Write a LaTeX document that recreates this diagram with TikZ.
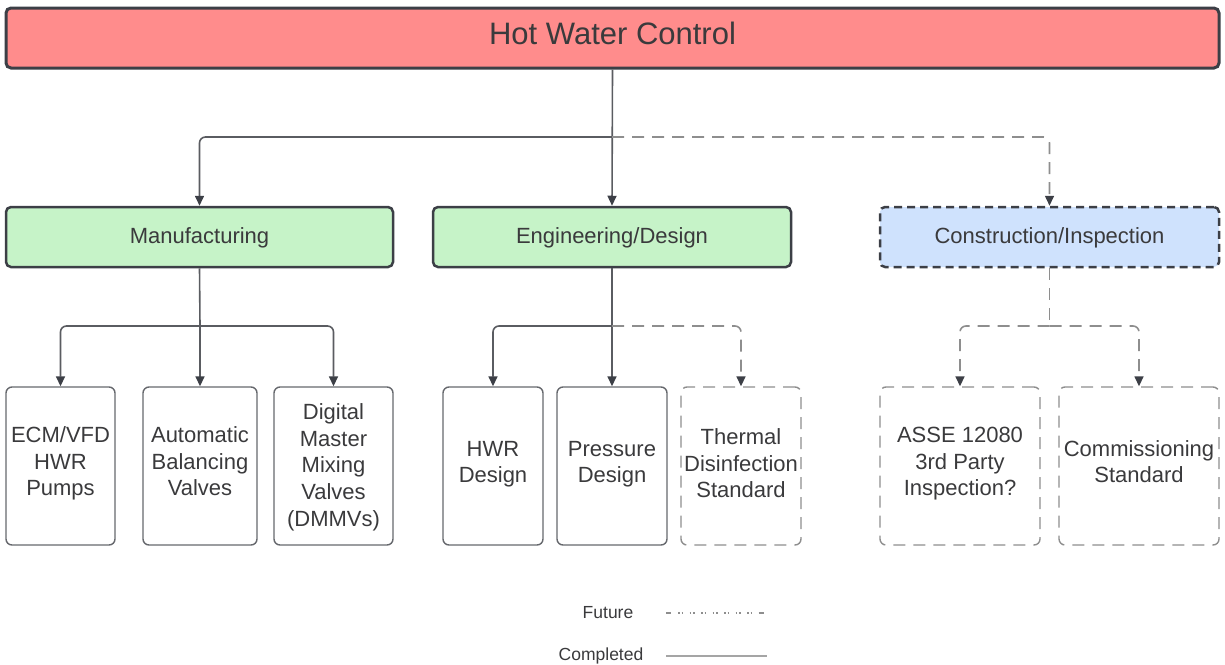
\documentclass[tikz,border=0pt]{standalone}
\usepackage{fontspec}
\setmainfont{Liberation Sans}
\usetikzlibrary{arrows.meta}
\definecolor{edge}{HTML}{3C3F46}
\definecolor{titlered}{HTML}{FF8C8C}
\definecolor{catgreen}{HTML}{C6F3C8}
\definecolor{catblue}{HTML}{CFE2FD}
\definecolor{txt}{HTML}{3A3A3C}
\definecolor{leafc}{HTML}{66686D}
\definecolor{futc}{HTML}{8E8E8E}
\definecolor{linec}{HTML}{5A5C61}
\newcommand{\lifttext}[2]{\raisebox{#1}[\height][\depth]{\begin{tabular}{@{}c@{}}#2\end{tabular}}}
\begin{document}
\begin{tikzpicture}[x=1pt,y=-1pt,
  topbox/.style={draw=edge, line width=3pt, rounded corners=5pt, fill=titlered,
    minimum width=1213pt, minimum height=60pt, inner sep=0pt,
    font=\fontsize{31}{37}\selectfont, text=txt},
  catbox/.style={draw=edge, line width=2.5pt, rounded corners=5pt,
    minimum height=60pt, inner sep=0pt, font=\fontsize{22}{26}\selectfont, text=txt},
  leaf/.style={draw=leafc, line width=1.4pt, rounded corners=6pt,
    minimum height=158pt, inner sep=0pt,
    font=\fontsize{22}{26.6}\selectfont, text=txt},
  futleaf/.style={leaf, draw=futc, dash pattern=on 12pt off 8pt},
  conn/.style={draw=linec, line width=1.6pt, rounded corners=6pt,
    -{Triangle[length=10pt,width=9pt,color=edge]}},
  futconn/.style={conn, draw=futc, dash pattern=on 12pt off 8pt},
  legtext/.style={font=\fontsize{17.5}{21}\selectfont, text=txt, inner sep=0pt}
]
\useasboundingbox (0,0) rectangle (1225,664);

% title
\node[topbox] (title) at (612.5,38) {\lifttext{1pt}{Hot Water Control}};

% categories
\node[catbox, fill=catgreen, minimum width=387pt] (manu) at (199.5,237) {\lifttext{-1pt}{Manufacturing}};
\node[catbox, fill=catgreen, minimum width=358pt] (eng) at (612,237) {\lifttext{-1pt}{Engineering/Design}};
\node[catbox, fill=catblue, minimum width=339pt, dash pattern=on 8pt off 5pt] (cons) at (1049.5,237) {\lifttext{-1pt}{Construction/Inspection}};

% leaves
\node[leaf, minimum width=109pt] (b1) at (60.5,466) {\lifttext{2pt}{ECM/VFD\\HWR\\Pumps}};
\node[leaf, minimum width=114pt] (b2) at (200,466) {\lifttext{2pt}{Automatic\\Balancing\\Valves}};
\node[leaf, minimum width=119pt] (b3) at (333.5,466) {\lifttext{-1.5pt}{Digital\\Master\\Mixing\\Valves\\(DMMVs)}};
\node[leaf, minimum width=100pt] (b4) at (493,466) {\lifttext{2pt}{HWR\\Design}};
\node[leaf, minimum width=110pt] (b5) at (612,466) {\lifttext{2pt}{Pressure\\Design}};
\node[futleaf, minimum width=120pt] (b6) at (741,466) {\lifttext{0pt}{Thermal\\Disinfection\\Standard}};
\node[futleaf, minimum width=160pt] (b7) at (960,466) {\lifttext{2pt}{ASSE 12080\\3rd Party\\Inspection?}};
\node[futleaf, minimum width=160pt] (b8) at (1139,466) {\lifttext{2pt}{Commissioning\\Standard}};

% junctions
\coordinate (j1) at (612,137);
\coordinate (j2) at (200,326);
\coordinate (j3) at (612,326);
\coordinate (j4) at (1049.5,326);

% top level connectors
\draw[conn] (title.south) -- (eng.north);
\draw[conn] (j1) -| (manu.north);
\draw[futconn] (j1) -| (cons.north);

% manufacturing
\draw[draw=linec, line width=1.6pt] (manu.south) -- (j2);
\draw[conn] (j2) -| (b1.north);
\draw[conn] (j2) -- (b2.north);
\draw[conn] (j2) -| (b3.north);

% engineering
\draw[draw=linec, line width=1.6pt] (eng.south) -- (j3);
\draw[conn] (j3) -| (b4.north);
\draw[conn] (j3) -- (b5.north);
\draw[futconn] (j3) -| (b6.north);

% construction
\draw[draw=futc, line width=1.6pt, dash pattern=on 12pt off 8pt] (cons.south) -- (j4);
\draw[futconn] (j4) -| (b7.north);
\draw[futconn] (j4) -| (b8.north);

% legend
\node[legtext] (lfut) at (608,613) {Future};
\node[legtext] (lcomp) at (601,656) {Completed};
\coordinate (lf1) at (666,613);
\coordinate (lf2) at (764,613);
\coordinate (lc1) at (666,656);
\coordinate (lc2) at (767,656);
\draw[draw=futc, line width=1.5pt, dash pattern=on 5pt off 7pt
  on 1.5pt off 2pt on 1.5pt off 6.5pt on 1.5pt off 2pt on 1.5pt off 6.5pt
  on 1.5pt off 2pt on 1.5pt off 6.5pt on 1.5pt off 2pt on 1.5pt off 6.5pt
  on 1.5pt off 2pt on 1.5pt off 6.5pt on 1.5pt off 2pt on 1.5pt off 6.5pt
  on 1.5pt off 2pt on 1.5pt off 6.5pt on 5pt off 20pt] (lf1) -- (lf2);
\draw[draw=futc!80, line width=1.5pt] (lc1) -- (lc2);
\end{tikzpicture}
\end{document}
